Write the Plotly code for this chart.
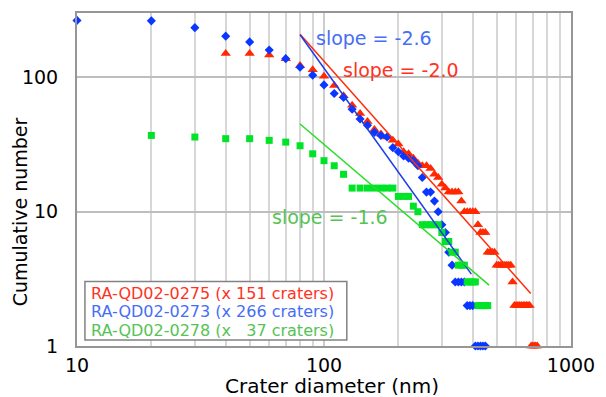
import plotly.graph_objects as go

# ---------------- data ----------------
red_d = [40, 50, 60, 70, 80, 90, 100, 110, 120, 130, 140, 150, 160, 170, 180, 190, 200,
         210, 220, 230, 240, 250, 260, 270, 280, 290, 300, 310, 320, 330, 340, 350, 360,
         370, 380, 390, 400, 410, 420, 430, 440, 450, 460, 470, 480, 490, 500, 510, 520,
         530, 540, 550, 560, 570, 580, 590, 600, 610, 620, 630, 640, 650, 660, 670, 680,
         690, 700, 710, 720, 730]
red_n = [151, 151, 147, 138, 123, 114, 102, 87, 73, 62, 54, 47, 41, 38, 36, 34, 32,
         28, 27, 25, 23, 22, 22, 21, 19, 18, 16, 15, 14, 14, 14, 14, 12,
         10, 10, 10, 10, 10, 8, 7, 7, 7, 5, 5, 5, 5, 4, 4, 4,
         4, 4, 4, 4, 4, 3, 2, 2, 2, 2, 2, 2, 2, 2, 2, 2,
         1, 1, 1, 1, 1]

blue_d = [10, 20, 30, 40, 50, 60, 70, 80, 90, 100, 110, 120, 130, 140, 150, 160, 170,
          180, 190, 200, 210, 220, 230, 240, 250, 260, 270, 280, 290, 300, 310, 320,
          330, 340, 350, 360, 370, 380, 390, 400, 410, 420, 430, 440, 450]
blue_n = [266, 264, 235, 203, 184, 160, 138, 119, 104, 88, 76, 71, 58, 49, 44, 39, 37,
          36, 30, 28, 26, 25, 24, 22, 18, 14, 14, 12, 10, 8, 7, 5,
          4, 3, 3, 3, 3, 2, 2, 2, 1, 1, 1, 1, 1]

green_d = [20, 30, 40, 50, 60, 70, 80, 90, 100, 110, 120, 130, 140, 150, 160, 170, 180,
           190, 200, 210, 220, 230, 240, 250, 260, 270, 280, 290, 300, 310, 320, 330,
           340, 350, 360, 370, 380, 390, 400, 410, 420, 430, 440, 450, 460]
green_n = [37, 36, 35, 35, 34, 33, 31, 27, 24, 22, 19, 15, 15, 15, 15, 15, 15,
           15, 13, 13, 13, 11, 10, 8, 8, 8, 8, 8, 7, 6, 6, 5,
           5, 4, 4, 4, 3, 3, 3, 3, 2, 2, 2, 2, 2]

# power-law fit lines (end points)
red_fit_d = [80, 687]
red_fit_n = [210, 2.46]
blue_fit_d = [80, 395]
blue_fit_n = [208, 3.43]
green_fit_d = [80, 466]
green_fit_n = [45, 2.84]

x_tick_vals = [10, 100, 1000]
x_tick_text = ["10", "100", "1000"]
x_minor_vals = [20, 30, 40, 50, 60, 70, 80, 90, 200, 300, 400, 500, 600, 700, 800, 900]
y_tick_vals = [1, 10, 100]
y_tick_text = ["1", "10", "100"]

legend_labels = ["RA-QD02-0275 (x 151 craters)",
                 "RA-QD02-0273 (x 266 craters)",
                 "RA-QD02-0278 (x   37 craters)"]
slope_labels = ["slope = -2.0", "slope = -2.6", "slope = -1.6"]

# ---------------- style ----------------
FONT = "DejaVu Sans"
RED_M = "rgb(255,40,0)"
BLUE_M = "rgb(10,55,255)"
GREEN_M = "rgb(0,228,40)"
RED_T = "rgb(255,50,30)"
BLUE_T = "rgb(70,110,245)"
GREEN_T = "rgb(85,195,85)"

fig = go.Figure()
fig.add_trace(go.Scatter(x=red_d, y=red_n, mode="markers", cliponaxis=False,
                         marker=dict(symbol="triangle-up", size=9, color=RED_M),
                         showlegend=False))
fig.add_trace(go.Scatter(x=blue_d, y=blue_n, mode="markers", cliponaxis=False,
                         marker=dict(symbol="diamond", size=7, color=BLUE_M),
                         showlegend=False))
fig.add_trace(go.Scatter(x=green_d, y=green_n, mode="markers", cliponaxis=False,
                         marker=dict(symbol="square", size=7, color=GREEN_M),
                         showlegend=False))
fig.add_trace(go.Scatter(x=red_fit_d, y=red_fit_n, mode="lines",
                         line=dict(color="rgb(255,45,10)", width=1.5), showlegend=False))
fig.add_trace(go.Scatter(x=blue_fit_d, y=blue_fit_n, mode="lines",
                         line=dict(color="rgb(30,60,235)", width=1.5), showlegend=False))
fig.add_trace(go.Scatter(x=green_fit_d, y=green_fit_n, mode="lines",
                         line=dict(color="rgb(40,220,40)", width=1.5), showlegend=False))

L, R, T, B = 77, 31, 11, 51
W, H = 606, 397
pw, ph = W - L - R, H - T - B


def px(x):
    return (x - L) / pw


def py(y):
    return (H - B - y) / ph


ann = []
ann.append(dict(text=slope_labels[1], x=px(316), y=py(36), xref="paper", yref="paper",
                xanchor="left", yanchor="middle", showarrow=False,
                font=dict(family=FONT, size=19, color=BLUE_T)))
ann.append(dict(text=slope_labels[0], x=px(343), y=py(68), xref="paper", yref="paper",
                xanchor="left", yanchor="middle", showarrow=False,
                font=dict(family=FONT, size=19, color=RED_T)))
ann.append(dict(text=slope_labels[2], x=px(272), y=py(216), xref="paper", yref="paper",
                xanchor="left", yanchor="middle", showarrow=False,
                font=dict(family=FONT, size=19, color=GREEN_T)))
for lab, yc, col in zip(legend_labels, [293, 311.5, 330], [RED_T, BLUE_T, GREEN_T]):
    ann.append(dict(text=lab, x=px(89), y=py(yc), xref="paper", yref="paper",
                    xanchor="left", yanchor="middle", showarrow=False, height=15,
                    font=dict(family=FONT, size=16, color=col)))
ann.append(dict(text="Cumulative number", x=px(19), y=py(211), xref="paper", yref="paper",
                xanchor="center", yanchor="middle", textangle=-90, showarrow=False,
                font=dict(family=FONT, size=19, color="black")))
ann.append(dict(text="Crater diameter (nm)", x=px(334), y=py(386), xref="paper", yref="paper",
                xanchor="center", yanchor="middle", showarrow=False, height=18,
                font=dict(family=FONT, size=20, color="black")))

shapes = [dict(type="rect", xref="paper", yref="paper", x0=px(85), x1=px(349),
               y0=py(340), y1=py(281), fillcolor="white",
               line=dict(color="rgb(130,130,130)", width=1.5), layer="above")]

fig.update_layout(
    width=W, height=H, margin=dict(l=L, r=R, t=T, b=B),
    paper_bgcolor="white", plot_bgcolor="white",
    annotations=ann, shapes=shapes,
    xaxis=dict(type="log", range=[1, 3], tickvals=x_tick_vals, ticktext=x_tick_text,
               showgrid=True, gridcolor="rgb(205,205,205)", gridwidth=1.5,
               minor=dict(tickvals=x_minor_vals, showgrid=True,
                          gridcolor="rgb(215,215,215)", gridwidth=1.5, ticks=""),
               showline=True, mirror=True, linecolor="rgb(150,150,150)", linewidth=2,
               ticks="", zeroline=False, ticklabelstandoff=1,
               tickfont=dict(family=FONT, size=19, color="black")),
    yaxis=dict(type="log", range=[0, 2.48], tickvals=y_tick_vals, ticktext=y_tick_text,
               showgrid=True, gridcolor="rgb(190,190,190)", gridwidth=1.5,
               showline=True, mirror=True, linecolor="rgb(150,150,150)", linewidth=2,
               ticks="", zeroline=False, ticklabelstandoff=13,
               tickfont=dict(family=FONT, size=19, color="black")),
)

fig.write_html("out.html", config={"displayModeBar": False},
               post_script="document.body.style.margin='0px';")
